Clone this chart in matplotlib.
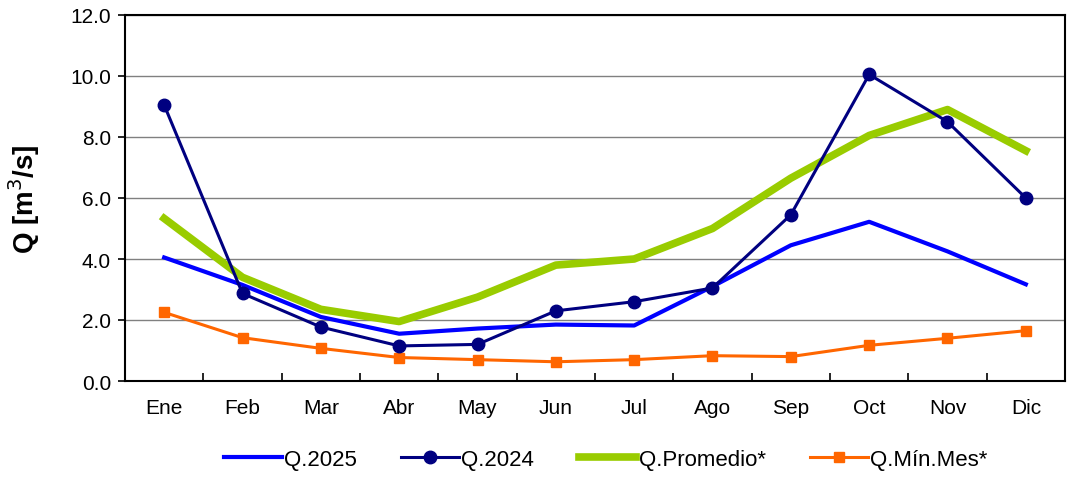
import matplotlib.pyplot as plt
import numpy as np

plt.rcParams['font.family'] = ['Liberation Sans', 'DejaVu Sans']

meses = ['Ene', 'Feb', 'Mar', 'Abr', 'May', 'Jun', 'Jul', 'Ago', 'Sep',
         'Oct', 'Nov', 'Dic']
q2025 = [4.05, 3.15, 2.1, 1.55, 1.72, 1.85, 1.82, 3.1, 4.45, 5.22, 4.25, 3.17]
q2024 = [9.05, 2.87, 1.77, 1.15, 1.2, 2.3, 2.6, 3.05, 5.45, 10.05, 8.5, 6.0]
q_prom = [5.33, 3.4, 2.35, 1.95, 2.75, 3.8, 4.0, 5.0, 6.65, 8.05, 8.9, 7.55]
q_min = [2.25, 1.42, 1.07, 0.77, 0.7, 0.63, 0.7, 0.83, 0.8, 1.17, 1.4, 1.65]

x = np.arange(len(meses))

fig = plt.figure(figsize=(10.72, 4.81), dpi=100)
ax = fig.add_axes([125 / 1072, 1 - 382 / 481, 940 / 1072, 366 / 481])

ax.plot(x, q2025, color='#0000ff', lw=3, label='Q.2025', zorder=3)
ax.plot(x, q2024, color='#000080', lw=2.2, marker='o', ms=9,
        label='Q.2024', zorder=4)
ax.plot(x, q_prom, color='#99cc00', lw=5.5, label='Q.Promedio*', zorder=2)
ax.plot(x, q_min, color='#ff6600', lw=2.2, marker='s', ms=7,
        label='Q.Mín.Mes*', zorder=3)

ax.set_xlim(-0.5, len(meses) - 0.5)
ax.set_ylim(0, 12)
ax.set_yticks(np.arange(0, 12.1, 2))
ax.set_yticklabels(['%.1f' % v for v in np.arange(0, 12.1, 2)], fontsize=15)
ax.set_xticks(x)
ax.set_xticklabels(meses, fontsize=15)
ax.tick_params(axis='x', length=0, pad=12)
ax.set_xticks(np.arange(0.5, len(meses) - 1, 1), minor=True)
ax.tick_params(axis='x', which='minor', direction='in', length=6, width=1.2)
ax.tick_params(axis='y', direction='out', length=5, width=1.2, pad=5)
ax.grid(axis='y', color='#808080', lw=1)
ax.set_axisbelow(True)
for s in ax.spines.values():
    s.set_linewidth(1.5)

ax.set_ylabel('Q [m$^3$/s]', fontsize=20, fontweight='bold', labelpad=20)

fig.legend(loc='lower center', ncol=4, frameon=False, fontsize=16,
           bbox_to_anchor=(0.565, -0.02), handlelength=2.6, columnspacing=2.0,
           handletextpad=0.1)

fig.savefig('out.png', dpi=100)
